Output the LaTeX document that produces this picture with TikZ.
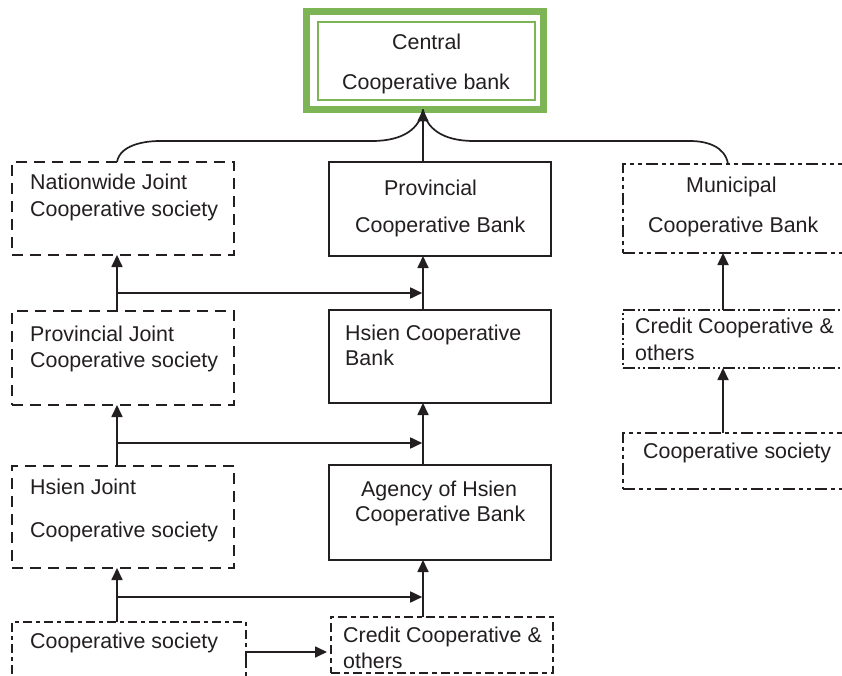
\documentclass[tikz,border=0pt]{standalone}
\usepackage{fontspec}
\setmainfont{Liberation Sans}
\usetikzlibrary{arrows.meta}
\definecolor{cgreen}{RGB}{125,180,85}
\definecolor{ink}{RGB}{35,31,32}
\begin{document}
\begin{tikzpicture}[x=1pt,y=-1pt,
  bx/.style={inner sep=0pt, outer sep=0pt, fill=white},
  solidbox/.style={bx, draw=ink, line width=2.2pt},
  jointbox/.style={bx, draw=ink, line width=2.4pt, dash pattern=on 11pt off 7pt},
  munbox/.style={bx, draw=ink, line width=1.5pt, dash pattern=on 12pt off 4pt on 4pt off 4pt on 4pt off 4pt},
  ddbox/.style={bx, draw=ink, line width=1.6pt, dash pattern=on 12pt off 3pt on 2pt off 3pt on 2pt off 3pt},
  bsbox/.style={bx, draw=ink, line width=1.5pt, dash pattern=on 9pt off 4pt on 4pt off 4pt},
  bcbox/.style={bx, draw=ink, line width=1.5pt, dash pattern=on 9pt off 4pt on 5pt off 4pt},
  txt/.style={inner sep=0pt, anchor=base west, text=ink, font=\fontsize{21.4}{25}\selectfont},
  conn/.style={draw=ink, line width=1.7pt},
  arr/.style={conn, -{Triangle[length=12pt,width=11pt]}}]
\clip (0,0) rectangle (842,676);
\fill[white] (0,0) rectangle (842,676);

% reference columns
\coordinate (L) at (117,0);
\coordinate (M) at (423,0);
\coordinate (R) at (723,0);

% central bank
\node[bx, draw=cgreen, line width=7pt, minimum width=237pt, minimum height=98pt] (cb) at (425,60.5) {};
\node[inner sep=0pt, draw=cgreen, line width=1.5pt, minimum width=217pt, minimum height=78pt] (cbi) at (426.5,61) {};
\node[txt] (t1) at (392,50) {Central};
\node[txt] (t2) at (342,90) {Cooperative bank};

% boxes
\node[jointbox, minimum width=222pt, minimum height=93pt] (nj) at (123,208.5) {};
\node[solidbox, minimum width=222pt, minimum height=94pt] (pb) at (440,209) {};
\node[munbox, minimum width=277pt, minimum height=89pt] (mb) at (761.5,208.5) {};
\node[jointbox, minimum width=222pt, minimum height=94pt] (pj) at (123,358) {};
\node[solidbox, minimum width=222pt, minimum height=93pt] (hb) at (440,356.5) {};
\node[ddbox, minimum width=277pt, minimum height=58pt] (rc) at (761.5,339) {};
\node[jointbox, minimum width=222pt, minimum height=102pt] (hj) at (123,517) {};
\node[solidbox, minimum width=222pt, minimum height=95pt] (ag) at (440,512.5) {};
\node[munbox, minimum width=277pt, minimum height=56pt] (rs) at (761.5,461) {};
\node[bsbox, minimum width=234pt, minimum height=98pt] (bs) at (129,671) {};
\node[bcbox, minimum width=222pt, minimum height=56pt] (bc) at (442,645) {};

% texts
\node[txt] (t3) at (30,190) {Nationwide Joint};
\node[txt] (t4) at (30,217) {Cooperative society};
\node[txt] (t5) at (384,196) {Provincial};
\node[txt] (t6) at (355,233) {Cooperative Bank};
\node[txt] (t7) at (686,193) {Municipal};
\node[txt] (t8) at (648,233) {Cooperative Bank};
\node[txt] (t9) at (30,341) {Provincial Joint};
\node[txt] (t10) at (30,367) {Cooperative society};
\node[txt] (t11) at (345,340) {Hsien Cooperative};
\node[txt] (t12) at (345,365) {Bank};
\node[txt] (t13) at (635,333) {Credit Cooperative \&};
\node[txt] (t14) at (635,360) {others};
\node[txt] (t15) at (30,494) {Hsien Joint};
\node[txt] (t16) at (30,537) {Cooperative society};
\node[txt] (t17) at (361,496) {Agency of Hsien};
\node[txt] (t18) at (355,521) {Cooperative Bank};
\node[txt] (t19) at (643,458) {Cooperative society};
\node[txt] (t20) at (30,648) {Cooperative society};
\node[txt] (t21) at (343,642) {Credit Cooperative \&};
\node[txt] (t22) at (343,668) {others};

% into central bank
\draw[conn] (L |- nj.north) .. controls +(3,-17) and +(-16,0) .. (160,141) -- (372,141)
   .. controls (404,141) and (420,128) .. (M |- cb.south);
\draw[conn] (R |- mb.north) ++(5,0) .. controls +(-3,-18) and +(16,0) .. (690,141) -- (474,141)
   .. controls (442,141) and (426,128) .. (M |- cb.south);
\draw[arr] (M |- pb.north) -- (M |- cb.south);

% left and middle columns
\draw[arr] (L |- pj.north) -- (L |- nj.south);
\draw[arr] (L |- hj.north) -- (L |- pj.south);
\draw[arr] (L |- bs.north) -- (L |- hj.south);
\draw[arr] (M |- hb.north) -- (M |- pb.south);
\draw[arr] (M |- ag.north) -- (M |- hb.south);
\draw[arr] (M |- bc.north) -- (M |- ag.south);

\coordinate (b1) at (117,293);
\coordinate (b2) at (117,443);
\coordinate (b3) at (117,597);
\draw[arr] (b1) -- ([xshift=-0.8pt]M |- b1);
\draw[arr] (b2) -- ([xshift=-0.8pt]M |- b2);
\draw[arr] (b3) -- ([xshift=-0.8pt]M |- b3);

% right column
\draw[arr] (R |- rc.north) -- (R |- mb.south);
\draw[arr] (R |- rs.north) -- (R |- rc.south);

% bottom
\coordinate (b4) at (246,668);
\draw[arr] (b4) |- ([xshift=-4pt]bc.west |- 0,652);
\end{tikzpicture}
\end{document}
